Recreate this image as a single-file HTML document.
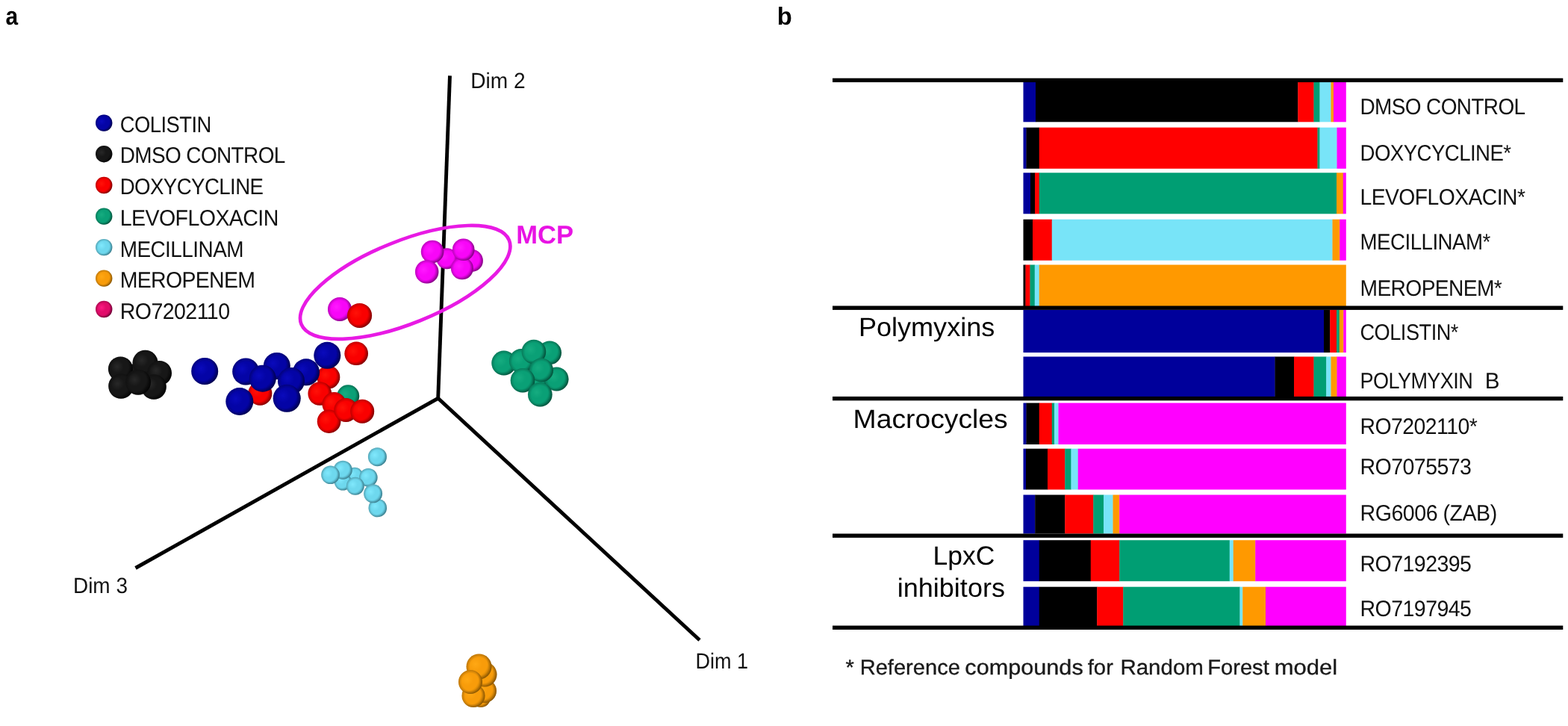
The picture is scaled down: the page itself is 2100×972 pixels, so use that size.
<!DOCTYPE html>
<html lang="en">
<head>
<meta charset="utf-8">
<title>Figure</title>
<style>
html,body{margin:0;padding:0;background:#fff;}
body{width:2100px;height:972px;overflow:hidden;}
svg{display:block;font-family:"Liberation Sans",sans-serif;}
</style>
</head>
<body>
<svg width="2100" height="972" viewBox="0 0 2100 972" text-rendering="geometricPrecision">
<rect width="2100" height="972" fill="#fff"/>
<defs>
<radialGradient id="gblue" cx="0.36" cy="0.40" r="0.66"><stop offset="0" stop-color="#0A0ABC"/><stop offset="0.4" stop-color="#0404A6"/><stop offset="0.7" stop-color="#0404A6"/><stop offset="1" stop-color="#000064"/></radialGradient>
<radialGradient id="gred" cx="0.36" cy="0.40" r="0.66"><stop offset="0" stop-color="#FF1208"/><stop offset="0.4" stop-color="#FA0000"/><stop offset="0.7" stop-color="#FA0000"/><stop offset="1" stop-color="#A40000"/></radialGradient>
<radialGradient id="gblack" cx="0.36" cy="0.40" r="0.66"><stop offset="0" stop-color="#282828"/><stop offset="0.4" stop-color="#171717"/><stop offset="0.7" stop-color="#171717"/><stop offset="1" stop-color="#050505"/></radialGradient>
<radialGradient id="ggreen" cx="0.36" cy="0.40" r="0.66"><stop offset="0" stop-color="#16AC80"/><stop offset="0.4" stop-color="#0AA076"/><stop offset="0.7" stop-color="#0AA076"/><stop offset="1" stop-color="#04684C"/></radialGradient>
<radialGradient id="gcyan" cx="0.36" cy="0.40" r="0.66"><stop offset="0" stop-color="#80E8FC"/><stop offset="0.4" stop-color="#6ED8EE"/><stop offset="0.7" stop-color="#6ED8EE"/><stop offset="1" stop-color="#4AA0B4"/></radialGradient>
<radialGradient id="gorange" cx="0.36" cy="0.40" r="0.66"><stop offset="0" stop-color="#FFA814"/><stop offset="0.4" stop-color="#F89C0A"/><stop offset="0.7" stop-color="#F89C0A"/><stop offset="1" stop-color="#B06E02"/></radialGradient>
<radialGradient id="gmag" cx="0.36" cy="0.40" r="0.66"><stop offset="0" stop-color="#FF1AFF"/><stop offset="0.4" stop-color="#F806F8"/><stop offset="0.7" stop-color="#F806F8"/><stop offset="1" stop-color="#A800A8"/></radialGradient>
<radialGradient id="gpink" cx="0.36" cy="0.40" r="0.66"><stop offset="0" stop-color="#FC1C84"/><stop offset="0.4" stop-color="#E20C6A"/><stop offset="0.7" stop-color="#E20C6A"/><stop offset="1" stop-color="#8E0044"/></radialGradient>
<radialGradient id="rim" cx="0.5" cy="0.5" r="0.5"><stop offset="0" stop-color="#000" stop-opacity="0"/><stop offset="0.72" stop-color="#000" stop-opacity="0"/><stop offset="1" stop-color="#000" stop-opacity="0.24"/></radialGradient>
</defs>
<text transform="translate(7.61 33.00) scale(0.8768 1)" font-size="34.0" font-weight="bold" fill="#000" xml:space="preserve">a</text>
<text transform="translate(1040.71 33.00) scale(0.9874 1)" font-size="33.2" font-weight="bold" fill="#000" xml:space="preserve">b</text>
<circle cx="139.2" cy="164.6" r="11.2" fill="url(#gblue)"/><circle cx="139.2" cy="164.6" r="11.2" fill="url(#rim)"/>
<text transform="translate(160.70 177.00) scale(0.9118 1)" font-size="30.0" letter-spacing="-0.565" fill="#111" xml:space="preserve">COLISTIN</text>
<circle cx="139.2" cy="206.2" r="11.2" fill="url(#gblack)"/><circle cx="139.2" cy="206.2" r="11.2" fill="url(#rim)"/>
<text transform="translate(160.70 218.00) scale(0.9316 1)" font-size="30.0" letter-spacing="-0.646" fill="#111" xml:space="preserve">DMSO CONTROL</text>
<circle cx="139.2" cy="248.0" r="11.2" fill="url(#gred)"/><circle cx="139.2" cy="248.0" r="11.2" fill="url(#rim)"/>
<text transform="translate(160.70 260.00) scale(0.9206 1)" font-size="30.0" letter-spacing="-0.622" fill="#111" xml:space="preserve">DOXYCYCLINE</text>
<circle cx="139.2" cy="289.6" r="11.2" fill="url(#ggreen)"/><circle cx="139.2" cy="289.6" r="11.2" fill="url(#rim)"/>
<text transform="translate(160.70 302.00) scale(0.9517 1)" font-size="30.0" letter-spacing="-0.603" fill="#111" xml:space="preserve">LEVOFLOXACIN</text>
<circle cx="139.2" cy="331.1" r="11.2" fill="url(#gcyan)"/><circle cx="139.2" cy="331.1" r="11.2" fill="url(#rim)"/>
<text transform="translate(160.70 344.00) scale(0.9309 1)" font-size="30.0" letter-spacing="-0.585" fill="#111" xml:space="preserve">MECILLINAM</text>
<circle cx="139.2" cy="372.6" r="11.2" fill="url(#gorange)"/><circle cx="139.2" cy="372.6" r="11.2" fill="url(#rim)"/>
<text transform="translate(160.70 385.00) scale(0.9494 1)" font-size="30.0" letter-spacing="-0.707" fill="#111" xml:space="preserve">MEROPENEM</text>
<circle cx="139.2" cy="414.0" r="11.2" fill="url(#gpink)"/><circle cx="139.2" cy="414.0" r="11.2" fill="url(#rim)"/>
<text transform="translate(160.70 427.00) scale(0.9507 1)" font-size="30.0" letter-spacing="-0.577" fill="#111" xml:space="preserve">RO7202110</text>
<g stroke="#000" stroke-width="4.9" stroke-linecap="butt" fill="none">
<line x1="586.7" y1="533.3" x2="602.5" y2="101.3"/>
</g>
<circle cx="598.5" cy="346.3" r="14" fill="url(#gmag)"/><circle cx="598.5" cy="346.3" r="14" fill="url(#rim)"/>
<circle cx="631.9" cy="349" r="15" fill="url(#gmag)"/><circle cx="631.9" cy="349" r="15" fill="url(#rim)"/>
<circle cx="618.9" cy="359.3" r="15" fill="url(#gmag)"/><circle cx="618.9" cy="359.3" r="15" fill="url(#rim)"/>
<circle cx="579.1" cy="337" r="15.3" fill="url(#gmag)"/><circle cx="579.1" cy="337" r="15.3" fill="url(#rim)"/>
<circle cx="620.7" cy="334.3" r="14.8" fill="url(#gmag)"/><circle cx="620.7" cy="334.3" r="14.8" fill="url(#rim)"/>
<circle cx="571.7" cy="363.9" r="15.7" fill="url(#gmag)"/><circle cx="571.7" cy="363.9" r="15.7" fill="url(#rim)"/>
<g stroke="#000" stroke-width="4.9" stroke-linecap="butt" stroke-linejoin="miter" fill="none">
<polyline points="181.5,760.5 586.7,533.3 937,857"/>
</g>
<text transform="translate(630.15 118.00) scale(0.9573 1)" font-size="29.4" fill="#111" xml:space="preserve">Dim 2</text>
<text transform="translate(97.97 794.00) scale(0.9506 1)" font-size="29.4" fill="#111" xml:space="preserve">Dim 3</text>
<text transform="translate(931.55 895.00) scale(0.9189 1)" font-size="29.4" fill="#111" xml:space="preserve">Dim 1</text>
<ellipse cx="542.7" cy="377.9" rx="150.1" ry="55.1" transform="rotate(-22.0 542.7 377.9)" fill="none" stroke="#E81AE4" stroke-width="4.7"/>
<text transform="translate(691.30 326.00) scale(1.0049 1)" font-size="34.4" font-weight="bold" fill="#E814E4" xml:space="preserve">MCP</text>
<circle cx="455" cy="414" r="16" fill="url(#gmag)"/><circle cx="455" cy="414" r="16" fill="url(#rim)"/>
<circle cx="481.6" cy="422.4" r="16.5" fill="url(#gred)"/><circle cx="481.6" cy="422.4" r="16.5" fill="url(#rim)"/>
<circle cx="177.5" cy="496.5" r="9" fill="url(#gblack)"/><circle cx="177.5" cy="496.5" r="9" fill="url(#rim)"/>
<circle cx="161.4" cy="494" r="16.5" fill="url(#gblack)"/><circle cx="161.4" cy="494" r="16.5" fill="url(#rim)"/>
<circle cx="194.5" cy="485.7" r="17" fill="url(#gblack)"/><circle cx="194.5" cy="485.7" r="17" fill="url(#rim)"/>
<circle cx="213.5" cy="499.5" r="16.5" fill="url(#gblack)"/><circle cx="213.5" cy="499.5" r="16.5" fill="url(#rim)"/>
<circle cx="162" cy="517" r="16.8" fill="url(#gblack)"/><circle cx="162" cy="517" r="16.8" fill="url(#rim)"/>
<circle cx="206" cy="518" r="16.8" fill="url(#gblack)"/><circle cx="206" cy="518" r="16.8" fill="url(#rim)"/>
<circle cx="185" cy="511.7" r="17" fill="url(#gblack)"/><circle cx="185" cy="511.7" r="17" fill="url(#rim)"/>
<circle cx="348.3" cy="526.7" r="16" fill="url(#gred)"/><circle cx="348.3" cy="526.7" r="16" fill="url(#rim)"/>
<circle cx="439.8" cy="505" r="15.5" fill="url(#gred)"/><circle cx="439.8" cy="505" r="15.5" fill="url(#rim)"/>
<circle cx="428.3" cy="527" r="15.8" fill="url(#gred)"/><circle cx="428.3" cy="527" r="15.8" fill="url(#rim)"/>
<circle cx="477.2" cy="473.3" r="15.8" fill="url(#gred)"/><circle cx="477.2" cy="473.3" r="15.8" fill="url(#rim)"/>
<circle cx="466.2" cy="530.3" r="15" fill="url(#ggreen)"/><circle cx="466.2" cy="530.3" r="15" fill="url(#rim)"/>
<circle cx="447.5" cy="541" r="16" fill="url(#gred)"/><circle cx="447.5" cy="541" r="16" fill="url(#rim)"/>
<circle cx="440.6" cy="564.2" r="15.8" fill="url(#gred)"/><circle cx="440.6" cy="564.2" r="15.8" fill="url(#rim)"/>
<circle cx="463.3" cy="549" r="16" fill="url(#gred)"/><circle cx="463.3" cy="549" r="16" fill="url(#rim)"/>
<circle cx="485.2" cy="550.8" r="16" fill="url(#gred)"/><circle cx="485.2" cy="550.8" r="16" fill="url(#rim)"/>
<circle cx="274.2" cy="497" r="18" fill="url(#gblue)"/><circle cx="274.2" cy="497" r="18" fill="url(#rim)"/>
<circle cx="329.2" cy="497.5" r="18" fill="url(#gblue)"/><circle cx="329.2" cy="497.5" r="18" fill="url(#rim)"/>
<circle cx="370.8" cy="490" r="18" fill="url(#gblue)"/><circle cx="370.8" cy="490" r="18" fill="url(#rim)"/>
<circle cx="410" cy="498.3" r="18" fill="url(#gblue)"/><circle cx="410" cy="498.3" r="18" fill="url(#rim)"/>
<circle cx="351.7" cy="506.7" r="18" fill="url(#gblue)"/><circle cx="351.7" cy="506.7" r="18" fill="url(#rim)"/>
<circle cx="390" cy="510" r="18" fill="url(#gblue)"/><circle cx="390" cy="510" r="18" fill="url(#rim)"/>
<circle cx="438.3" cy="475.8" r="18" fill="url(#gblue)"/><circle cx="438.3" cy="475.8" r="18" fill="url(#rim)"/>
<circle cx="320.8" cy="537.5" r="18.5" fill="url(#gblue)"/><circle cx="320.8" cy="537.5" r="18.5" fill="url(#rim)"/>
<circle cx="384.2" cy="533.3" r="18.5" fill="url(#gblue)"/><circle cx="384.2" cy="533.3" r="18.5" fill="url(#rim)"/>
<circle cx="719.7" cy="509.7" r="12" fill="url(#ggreen)"/><circle cx="719.7" cy="509.7" r="12" fill="url(#rim)"/>
<circle cx="736.2" cy="472.3" r="15.8" fill="url(#ggreen)"/><circle cx="736.2" cy="472.3" r="15.8" fill="url(#rim)"/>
<circle cx="674.8" cy="486.1" r="16.5" fill="url(#ggreen)"/><circle cx="674.8" cy="486.1" r="16.5" fill="url(#rim)"/>
<circle cx="698.2" cy="483.4" r="16.3" fill="url(#ggreen)"/><circle cx="698.2" cy="483.4" r="16.3" fill="url(#rim)"/>
<circle cx="714.9" cy="471" r="16.3" fill="url(#ggreen)"/><circle cx="714.9" cy="471" r="16.3" fill="url(#rim)"/>
<circle cx="745.5" cy="507.5" r="16" fill="url(#ggreen)"/><circle cx="745.5" cy="507.5" r="16" fill="url(#rim)"/>
<circle cx="725" cy="495.5" r="16" fill="url(#ggreen)"/><circle cx="725" cy="495.5" r="16" fill="url(#rim)"/>
<circle cx="700" cy="509.2" r="16.3" fill="url(#ggreen)"/><circle cx="700" cy="509.2" r="16.3" fill="url(#rim)"/>
<circle cx="723.3" cy="528.3" r="16.3" fill="url(#ggreen)"/><circle cx="723.3" cy="528.3" r="16.3" fill="url(#rim)"/>
<circle cx="505.4" cy="611.7" r="12.5" fill="url(#gcyan)"/><circle cx="505.4" cy="611.7" r="12.5" fill="url(#rim)"/>
<circle cx="475" cy="636.7" r="11" fill="url(#gcyan)"/><circle cx="475" cy="636.7" r="11" fill="url(#rim)"/>
<circle cx="459.2" cy="645" r="11.5" fill="url(#gcyan)"/><circle cx="459.2" cy="645" r="11.5" fill="url(#rim)"/>
<circle cx="459.2" cy="629.2" r="12.5" fill="url(#gcyan)"/><circle cx="459.2" cy="629.2" r="12.5" fill="url(#rim)"/>
<circle cx="442.5" cy="635.8" r="12.3" fill="url(#gcyan)"/><circle cx="442.5" cy="635.8" r="12.3" fill="url(#rim)"/>
<circle cx="493.3" cy="639.2" r="12.3" fill="url(#gcyan)"/><circle cx="493.3" cy="639.2" r="12.3" fill="url(#rim)"/>
<circle cx="475.8" cy="650.8" r="12" fill="url(#gcyan)"/><circle cx="475.8" cy="650.8" r="12" fill="url(#rim)"/>
<circle cx="505.8" cy="680" r="12.3" fill="url(#gcyan)"/><circle cx="505.8" cy="680" r="12.3" fill="url(#rim)"/>
<circle cx="499.6" cy="660.8" r="12.5" fill="url(#gcyan)"/><circle cx="499.6" cy="660.8" r="12.5" fill="url(#rim)"/>
<circle cx="644" cy="934" r="13" fill="url(#gorange)"/><circle cx="644" cy="934" r="13" fill="url(#rim)"/>
<circle cx="649" cy="925" r="16" fill="url(#gorange)"/><circle cx="649" cy="925" r="16" fill="url(#rim)"/>
<circle cx="634" cy="931.5" r="15.5" fill="url(#gorange)"/><circle cx="634" cy="931.5" r="15.5" fill="url(#rim)"/>
<circle cx="649" cy="903" r="16.5" fill="url(#gorange)"/><circle cx="649" cy="903" r="16.5" fill="url(#rim)"/>
<circle cx="641.5" cy="892.5" r="17" fill="url(#gorange)"/><circle cx="641.5" cy="892.5" r="17" fill="url(#rim)"/>
<circle cx="630" cy="913" r="16" fill="url(#gorange)"/><circle cx="630" cy="913" r="16" fill="url(#rim)"/>
<g shape-rendering="auto">
<rect x="1370.50" y="110.00" width="16.80" height="53.30" fill="#00009B"/>
<rect x="1387.00" y="110.00" width="351.60" height="53.30" fill="#000000"/>
<rect x="1738.30" y="110.00" width="21.50" height="53.30" fill="#FF0000"/>
<rect x="1759.50" y="110.00" width="8.30" height="53.30" fill="#009E73"/>
<rect x="1767.50" y="110.00" width="15.30" height="53.30" fill="#78E4F8"/>
<rect x="1782.50" y="110.00" width="3.80" height="53.30" fill="#FF9900"/>
<rect x="1786.00" y="110.00" width="16.80" height="53.30" fill="#FF00FF"/>
<rect x="1370.50" y="170.70" width="4.30" height="55.10" fill="#00009B"/>
<rect x="1374.50" y="170.70" width="17.55" height="55.10" fill="#000000"/>
<rect x="1391.75" y="170.70" width="373.05" height="55.10" fill="#FF0000"/>
<rect x="1764.50" y="170.70" width="3.30" height="55.10" fill="#009E73"/>
<rect x="1767.50" y="170.70" width="23.30" height="55.10" fill="#78E4F8"/>
<rect x="1790.50" y="170.70" width="12.30" height="55.10" fill="#FF00FF"/>
<rect x="1370.50" y="231.30" width="9.80" height="55.00" fill="#00009B"/>
<rect x="1380.00" y="231.30" width="6.30" height="55.00" fill="#000000"/>
<rect x="1386.00" y="231.30" width="6.05" height="55.00" fill="#FF0000"/>
<rect x="1391.75" y="231.30" width="398.55" height="55.00" fill="#009E73"/>
<rect x="1790.00" y="231.30" width="9.05" height="55.00" fill="#FF9900"/>
<rect x="1798.75" y="231.30" width="4.05" height="55.00" fill="#FF00FF"/>
<rect x="1370.50" y="293.70" width="12.80" height="55.00" fill="#000000"/>
<rect x="1383.00" y="293.70" width="26.05" height="55.00" fill="#FF0000"/>
<rect x="1408.75" y="293.70" width="376.05" height="55.00" fill="#78E4F8"/>
<rect x="1784.50" y="293.70" width="10.05" height="55.00" fill="#FF9900"/>
<rect x="1794.25" y="293.70" width="8.55" height="55.00" fill="#FF00FF"/>
<rect x="1370.50" y="354.50" width="3.30" height="55.50" fill="#000000"/>
<rect x="1373.50" y="354.50" width="6.30" height="55.50" fill="#FF0000"/>
<rect x="1379.50" y="354.50" width="6.55" height="55.50" fill="#009E73"/>
<rect x="1385.75" y="354.50" width="6.30" height="55.50" fill="#78E4F8"/>
<rect x="1391.75" y="354.50" width="411.05" height="55.50" fill="#FF9900"/>
<rect x="1370.50" y="415.00" width="402.80" height="57.00" fill="#00009B"/>
<rect x="1773.00" y="415.00" width="8.55" height="57.00" fill="#000000"/>
<rect x="1781.25" y="415.00" width="9.05" height="57.00" fill="#FF0000"/>
<rect x="1790.00" y="415.00" width="4.05" height="57.00" fill="#009E73"/>
<rect x="1793.75" y="415.00" width="5.80" height="57.00" fill="#FF9900"/>
<rect x="1799.25" y="415.00" width="3.55" height="57.00" fill="#FF00FF"/>
<rect x="1370.50" y="477.50" width="337.30" height="53.50" fill="#00009B"/>
<rect x="1707.50" y="477.50" width="25.80" height="53.50" fill="#000000"/>
<rect x="1733.00" y="477.50" width="26.80" height="53.50" fill="#FF0000"/>
<rect x="1759.50" y="477.50" width="17.05" height="53.50" fill="#009E73"/>
<rect x="1776.25" y="477.50" width="6.55" height="53.50" fill="#78E4F8"/>
<rect x="1782.50" y="477.50" width="8.30" height="53.50" fill="#FF9900"/>
<rect x="1790.50" y="477.50" width="12.30" height="53.50" fill="#FF00FF"/>
<rect x="1370.50" y="539.50" width="4.30" height="55.50" fill="#00009B"/>
<rect x="1374.50" y="539.50" width="17.55" height="55.50" fill="#000000"/>
<rect x="1391.75" y="539.50" width="17.30" height="55.50" fill="#FF0000"/>
<rect x="1408.75" y="539.50" width="3.55" height="55.50" fill="#009E73"/>
<rect x="1412.00" y="539.50" width="5.80" height="55.50" fill="#78E4F8"/>
<rect x="1417.50" y="539.50" width="385.30" height="55.50" fill="#FF00FF"/>
<rect x="1370.50" y="600.70" width="3.80" height="54.80" fill="#00009B"/>
<rect x="1374.00" y="600.70" width="29.30" height="54.80" fill="#000000"/>
<rect x="1403.00" y="600.70" width="23.55" height="54.80" fill="#FF0000"/>
<rect x="1426.25" y="600.70" width="8.55" height="54.80" fill="#009E73"/>
<rect x="1434.50" y="600.70" width="9.55" height="54.80" fill="#78E4F8"/>
<rect x="1443.75" y="600.70" width="359.05" height="54.80" fill="#FF00FF"/>
<rect x="1370.50" y="662.50" width="16.05" height="52.00" fill="#00009B"/>
<rect x="1386.25" y="662.50" width="40.30" height="52.00" fill="#000000"/>
<rect x="1426.25" y="662.50" width="38.30" height="52.00" fill="#FF0000"/>
<rect x="1464.25" y="662.50" width="14.05" height="52.00" fill="#009E73"/>
<rect x="1478.00" y="662.50" width="12.80" height="52.00" fill="#78E4F8"/>
<rect x="1490.50" y="662.50" width="9.05" height="52.00" fill="#FF9900"/>
<rect x="1499.25" y="662.50" width="303.55" height="52.00" fill="#FF00FF"/>
<rect x="1370.50" y="723.20" width="21.55" height="55.00" fill="#00009B"/>
<rect x="1391.75" y="723.20" width="69.30" height="55.00" fill="#000000"/>
<rect x="1460.75" y="723.20" width="38.80" height="55.00" fill="#FF0000"/>
<rect x="1499.25" y="723.20" width="147.80" height="55.00" fill="#009E73"/>
<rect x="1646.75" y="723.20" width="5.30" height="55.00" fill="#78E4F8"/>
<rect x="1651.75" y="723.20" width="29.80" height="55.00" fill="#FF9900"/>
<rect x="1681.25" y="723.20" width="121.55" height="55.00" fill="#FF00FF"/>
<rect x="1370.50" y="785.70" width="21.55" height="52.30" fill="#00009B"/>
<rect x="1391.75" y="785.70" width="77.80" height="52.30" fill="#000000"/>
<rect x="1469.25" y="785.70" width="35.30" height="52.30" fill="#FF0000"/>
<rect x="1504.25" y="785.70" width="156.55" height="52.30" fill="#009E73"/>
<rect x="1660.50" y="785.70" width="4.05" height="52.30" fill="#78E4F8"/>
<rect x="1664.25" y="785.70" width="31.05" height="52.30" fill="#FF9900"/>
<rect x="1695.00" y="785.70" width="107.80" height="52.30" fill="#FF00FF"/>
</g>
<rect x="1115" y="104.70" width="978.3" height="5.4" fill="#000"/>
<rect x="1115" y="409.50" width="978.3" height="5.4" fill="#000"/>
<rect x="1115" y="530.90" width="978.3" height="5.4" fill="#000"/>
<rect x="1115" y="714.50" width="978.3" height="5.4" fill="#000"/>
<rect x="1115" y="837.60" width="978.3" height="5.4" fill="#000"/>
<text transform="translate(1821.50 153.00) scale(0.9316 1)" font-size="30.0" letter-spacing="-0.646" fill="#111" xml:space="preserve">DMSO CONTROL</text>
<text transform="translate(1821.50 215.00) scale(0.9203 1)" font-size="30.0" letter-spacing="-0.599" fill="#111" xml:space="preserve">DOXYCYCLINE*</text>
<text transform="translate(1821.50 274.00) scale(0.9433 1)" font-size="30.0" letter-spacing="-0.586" fill="#111" xml:space="preserve">LEVOFLOXACIN*</text>
<text transform="translate(1821.50 334.00) scale(0.9231 1)" font-size="30.0" letter-spacing="-0.567" fill="#111" xml:space="preserve">MECILLINAM*</text>
<text transform="translate(1821.50 396.00) scale(0.9408 1)" font-size="30.0" letter-spacing="-0.673" fill="#111" xml:space="preserve">MEROPENEM*</text>
<text transform="translate(1821.50 455.00) scale(0.9054 1)" font-size="30.0" letter-spacing="-0.545" fill="#111" xml:space="preserve">COLISTIN*</text>
<text transform="translate(1821.50 581.00) scale(0.9462 1)" font-size="30.0" letter-spacing="-0.553" fill="#111" xml:space="preserve">RO7202110*</text>
<text transform="translate(1821.50 635.00) scale(0.9511 1)" font-size="30.0" letter-spacing="-0.584" fill="#111" xml:space="preserve">RO7075573</text>
<text transform="translate(1821.50 697.00) scale(0.9535 1)" font-size="30.0" letter-spacing="-0.520" fill="#111" xml:space="preserve">RG6006 (ZAB)</text>
<text transform="translate(1821.50 765.00) scale(0.9511 1)" font-size="30.0" letter-spacing="-0.584" fill="#111" xml:space="preserve">RO7192395</text>
<text transform="translate(1821.50 825.00) scale(0.9511 1)" font-size="30.0" letter-spacing="-0.584" fill="#111" xml:space="preserve">RO7197945</text>
<text transform="translate(1821.50 520.00) scale(0.9012 1)" font-size="30.0" letter-spacing="-0.620" fill="#111" xml:space="preserve">POLYMYXIN</text>
<text transform="translate(1988.83 520.00) scale(0.9874 1)" font-size="30.0" fill="#111" xml:space="preserve">B</text>
<text transform="translate(1149.89 450.00) scale(1.0220 1)" font-size="35.3" fill="#000" xml:space="preserve">Polymyxins</text>
<text transform="translate(1142.59 573.00) scale(1.0562 1)" font-size="35.3" fill="#000" xml:space="preserve">Macrocycles</text>
<text transform="translate(1249.44 756.00) scale(1.0060 1)" font-size="35.3" fill="#000" xml:space="preserve">LpxC</text>
<text transform="translate(1201.70 799.00) scale(1.0213 1)" font-size="35.3" fill="#000" xml:space="preserve">inhibitors</text>
<text transform="translate(1132.41 903.00) scale(1.0303 1)" font-size="28.3" stroke="#1a1a1a" stroke-width="0.35" fill="#1a1a1a" xml:space="preserve">*</text>
<text transform="translate(1151.68 903.00) scale(1.0278 1)" font-size="28.3" stroke="#1a1a1a" stroke-width="0.35" fill="#1a1a1a" xml:space="preserve">Reference</text>
<text transform="translate(1292.37 903.00) scale(1.0823 1)" font-size="28.3" stroke="#1a1a1a" stroke-width="0.35" fill="#1a1a1a" xml:space="preserve">compounds</text>
<text transform="translate(1456.71 903.00) scale(1.0352 1)" font-size="28.3" stroke="#1a1a1a" stroke-width="0.35" fill="#1a1a1a" xml:space="preserve">for</text>
<text transform="translate(1500.44 903.00) scale(1.0416 1)" font-size="28.3" stroke="#1a1a1a" stroke-width="0.35" fill="#1a1a1a" xml:space="preserve">Random</text>
<text transform="translate(1617.17 903.00) scale(1.0304 1)" font-size="28.3" stroke="#1a1a1a" stroke-width="0.35" fill="#1a1a1a" xml:space="preserve">Forest</text>
<text transform="translate(1706.63 903.00) scale(1.0969 1)" font-size="28.3" stroke="#1a1a1a" stroke-width="0.35" fill="#1a1a1a" xml:space="preserve">model</text>
</svg>
</body>
</html>
